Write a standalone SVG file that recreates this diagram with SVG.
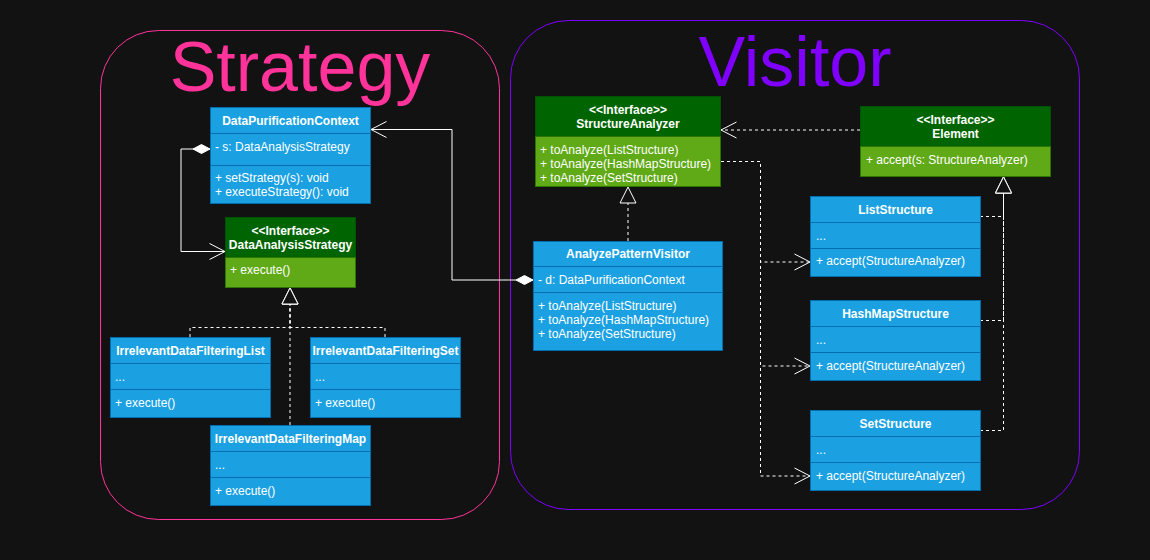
<svg xmlns="http://www.w3.org/2000/svg" width="1150" height="560" viewBox="0 0 1150 560">
<style>
.bg{fill:#121212}
.cls{fill:#1BA1E2;stroke:#006EAF;stroke-width:1}
.div{stroke:#006EAF;stroke-width:1}
.ih{fill:#006400;stroke:#005200;stroke-width:1}
.ib{fill:#60A917;stroke:#2D7600;stroke-width:1}
.t{font-family:"Liberation Sans",Arial,Helvetica,sans-serif;font-size:12px;fill:#FFFFFF}
.b{font-weight:bold;text-anchor:middle}
.ln{fill:none;stroke:#FFFFFF;stroke-width:1}
.dash{stroke-dasharray:3 3}
.title{font-family:"Liberation Sans",Arial,Helvetica,sans-serif;font-size:70px;text-anchor:middle}
</style>
<defs>
<marker id="open" viewBox="0 0 17 18" refX="16" refY="9" markerWidth="17" markerHeight="18" markerUnits="userSpaceOnUse" orient="auto"><path d="M0.5,1 L16,9 L0.5,17" fill="none" stroke="#FFFFFF" stroke-width="1"/></marker>
<marker id="tri" viewBox="0 0 18 18" refX="17" refY="9" markerWidth="18" markerHeight="18" markerUnits="userSpaceOnUse" orient="auto"><path d="M1,1 L17,9 L1,17 Z" fill="#121212" stroke="#FFFFFF" stroke-width="1"/></marker>
<marker id="dia" viewBox="0 0 18 12" refX="0.5" refY="6" markerWidth="18" markerHeight="12" markerUnits="userSpaceOnUse" orient="auto"><path d="M0.5,6 L9,1.5 L17.5,6 L9,10.5 Z" fill="#FFFFFF" stroke="#FFFFFF" stroke-width="1"/></marker>
</defs>
<rect class="bg" x="0" y="0" width="1150" height="560"/>

<g id="strategy-container">
<rect x="100.5" y="30.5" width="399" height="489" rx="58" ry="58" fill="none" stroke="#FF3399" stroke-width="1"/>
<text class="title" x="300" y="91" fill="#FF3399">Strategy</text>
</g>
<g id="visitor-container">
<rect x="510.5" y="20.5" width="569" height="489" rx="58" ry="58" fill="none" stroke="#7F00FF" stroke-width="1"/>
<text class="title" x="795" y="86" fill="#7F00FF">Visitor</text>
</g>

<g id="connectors">
<path class="ln" d="M210,149 H181 V251.5 H225" marker-start="url(#dia)" marker-end="url(#open)"/>
<path class="ln" d="M533,280 H452 V129.5 H371" marker-start="url(#dia)" marker-end="url(#open)"/>
<path class="ln dash" d="M190,337 V327.5 H290 V288" marker-end="url(#tri)"/>
<path class="ln dash" d="M385,337 V327.5 H290 V288" marker-end="url(#tri)"/>
<path class="ln dash" d="M290,425 V288" marker-end="url(#tri)"/>
<path class="ln dash" d="M628,241 V187" marker-end="url(#tri)"/>
<path class="ln dash" d="M860,130 H721" marker-end="url(#open)"/>
<path class="ln dash" d="M721,161.5 H760.5 V262 H810" marker-end="url(#open)"/>
<path class="ln dash" d="M721,161.5 H760.5 V366 H810" marker-end="url(#open)"/>
<path class="ln dash" d="M721,161.5 H760.5 V476 H810" marker-end="url(#open)"/>
<path class="ln dash" d="M980,216.5 H1003.5 V177" marker-end="url(#tri)"/>
<path class="ln dash" d="M980,320.5 H1003.5 V177" marker-end="url(#tri)"/>
<path class="ln dash" d="M980,430.5 H1003.5 V177" marker-end="url(#tri)"/>
</g>

<g id="DataPurificationContext">
<rect class="cls" x="210.5" y="107.5" width="160" height="96"/>
<line class="div" x1="210.5" y1="133.5" x2="370.5" y2="133.5"/>
<line class="div" x1="210.5" y1="165.5" x2="370.5" y2="165.5"/>
<text class="t b" x="290.5" y="124.5">DataPurificationContext</text>
<text class="t" x="215" y="151">- s: DataAnalysisStrategy</text>
<text class="t" x="215" y="182">+ setStrategy(s): void</text>
<text class="t" x="215" y="196">+ executeStrategy(): void</text>
</g>

<g id="DataAnalysisStrategy">
<rect class="ih" x="225.5" y="217.5" width="130" height="40"/>
<rect class="ib" x="225.5" y="257.5" width="130" height="30"/>
<text class="t b" x="290.5" y="235">&lt;&lt;Interface&gt;&gt;</text>
<text class="t b" x="290.5" y="249">DataAnalysisStrategy</text>
<text class="t" x="230" y="274">+ execute()</text>
</g>

<g id="IrrelevantDataFilteringList">
<rect class="cls" x="110.5" y="337.5" width="160" height="80"/>
<line class="div" x1="110.5" y1="363.5" x2="270.5" y2="363.5"/>
<line class="div" x1="110.5" y1="389.5" x2="270.5" y2="389.5"/>
<text class="t b" x="190.5" y="355">IrrelevantDataFilteringList</text>
<text class="t" x="115" y="381">...</text>
<text class="t" x="115" y="407">+ execute()</text>
</g>

<g id="IrrelevantDataFilteringSet">
<rect class="cls" x="310.5" y="337.5" width="150" height="80"/>
<line class="div" x1="310.5" y1="363.5" x2="460.5" y2="363.5"/>
<line class="div" x1="310.5" y1="389.5" x2="460.5" y2="389.5"/>
<text class="t b" x="385.5" y="355">IrrelevantDataFilteringSet</text>
<text class="t" x="315" y="381">...</text>
<text class="t" x="315" y="407">+ execute()</text>
</g>

<g id="IrrelevantDataFilteringMap">
<rect class="cls" x="210.5" y="425.5" width="160" height="80"/>
<line class="div" x1="210.5" y1="451.5" x2="370.5" y2="451.5"/>
<line class="div" x1="210.5" y1="477.5" x2="370.5" y2="477.5"/>
<text class="t b" x="290.5" y="443">IrrelevantDataFilteringMap</text>
<text class="t" x="215" y="469">...</text>
<text class="t" x="215" y="495">+ execute()</text>
</g>

<g id="StructureAnalyzer">
<rect class="ih" x="535.5" y="96.5" width="185" height="40"/>
<rect class="ib" x="535.5" y="136.5" width="185" height="50"/>
<text class="t b" x="628" y="114">&lt;&lt;Interface&gt;&gt;</text>
<text class="t b" x="628" y="128">StructureAnalyzer</text>
<text class="t" x="540" y="154">+ toAnalyze(ListStructure)</text>
<text class="t" x="540" y="168">+ toAnalyze(HashMapStructure)</text>
<text class="t" x="540" y="182">+ toAnalyze(SetStructure)</text>
</g>

<g id="AnalyzePatternVisitor">
<rect class="cls" x="533.5" y="241.5" width="189" height="109"/>
<line class="div" x1="533.5" y1="266.5" x2="722.5" y2="266.5"/>
<line class="div" x1="533.5" y1="292.5" x2="722.5" y2="292.5"/>
<text class="t b" x="628" y="257.5">AnalyzePatternVisitor</text>
<text class="t" x="538" y="283.5">- d: DataPurificationContext</text>
<text class="t" x="538" y="310">+ toAnalyze(ListStructure)</text>
<text class="t" x="538" y="324">+ toAnalyze(HashMapStructure)</text>
<text class="t" x="538" y="338">+ toAnalyze(SetStructure)</text>
</g>

<g id="Element">
<rect class="ih" x="860.5" y="106.5" width="190" height="40"/>
<rect class="ib" x="860.5" y="146.5" width="190" height="30"/>
<text class="t b" x="955.5" y="123.5">&lt;&lt;Interface&gt;&gt;</text>
<text class="t b" x="955.5" y="137.5">Element</text>
<text class="t" x="866" y="163.5">+ accept(s: StructureAnalyzer)</text>
</g>

<g id="ListStructure">
<rect class="cls" x="810.5" y="196.5" width="170" height="80"/>
<line class="div" x1="810.5" y1="222.5" x2="980.5" y2="222.5"/>
<line class="div" x1="810.5" y1="248.5" x2="980.5" y2="248.5"/>
<text class="t b" x="895.5" y="213.5">ListStructure</text>
<text class="t" x="816" y="240">...</text>
<text class="t" x="816" y="265">+ accept(StructureAnalyzer)</text>
</g>

<g id="HashMapStructure">
<rect class="cls" x="810.5" y="300.5" width="170" height="80"/>
<line class="div" x1="810.5" y1="326.5" x2="980.5" y2="326.5"/>
<line class="div" x1="810.5" y1="352.5" x2="980.5" y2="352.5"/>
<text class="t b" x="895.5" y="317.5">HashMapStructure</text>
<text class="t" x="816" y="344">...</text>
<text class="t" x="816" y="370">+ accept(StructureAnalyzer)</text>
</g>

<g id="SetStructure">
<rect class="cls" x="810.5" y="410.5" width="170" height="80"/>
<line class="div" x1="810.5" y1="436.5" x2="980.5" y2="436.5"/>
<line class="div" x1="810.5" y1="462.5" x2="980.5" y2="462.5"/>
<text class="t b" x="895.5" y="427.5">SetStructure</text>
<text class="t" x="816" y="454">...</text>
<text class="t" x="816" y="480">+ accept(StructureAnalyzer)</text>
</g>
</svg>
